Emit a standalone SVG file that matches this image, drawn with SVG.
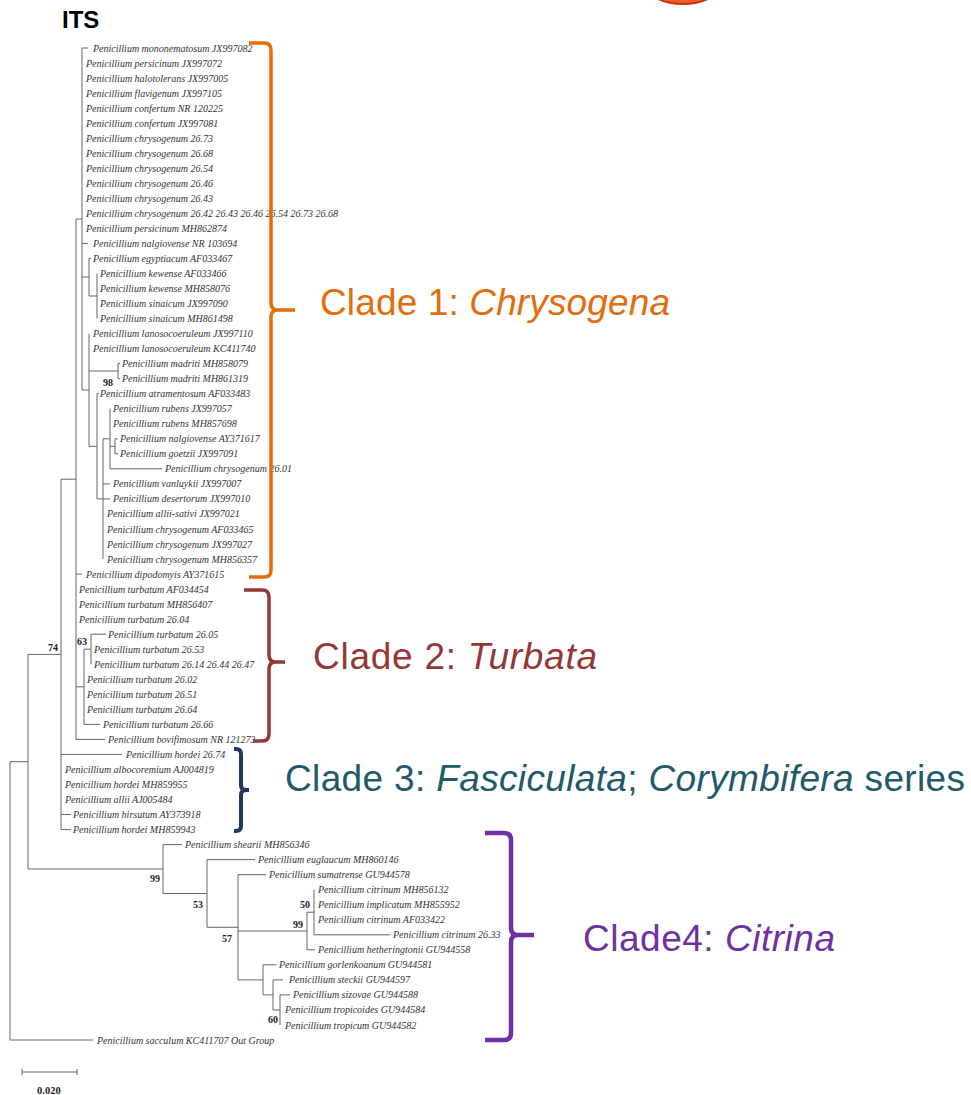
<svg xmlns="http://www.w3.org/2000/svg" width="971" height="1095" viewBox="0 0 971 1095">
<style>
.lf{font-family:"Liberation Serif",serif;font-style:italic;font-size:10px;fill:#333}
.bs{font-family:"Liberation Serif",serif;font-weight:bold;font-size:10px;fill:#222}
.tr{fill:none;stroke:#666;stroke-width:1}
.br{fill:none;stroke-linecap:butt;stroke-linejoin:round}
.cl{font-family:"Liberation Sans",Arial,sans-serif;font-size:37px}
.it{font-style:italic}
</style>
<rect width="971" height="1095" fill="#fff"/>
<ellipse cx="683" cy="-22" rx="42" ry="26" fill="#E8602A" stroke="#C9301A" stroke-width="2"/>
<text x="62" y="28" style="font-family:'Liberation Sans',Arial,sans-serif;font-weight:bold;font-size:24px;fill:#000">ITS</text>
<g id="connectors" class="tr">
<path d="M82,48 V390 M82,48 H88 M82,243.4 H88 M82,277 H89 M89,258.4 V296 M89,258.4 H91 M89,296 H97 M97,273.5 V318.5"/>
<path d="M82,390 H89 M89,333.6 V446.3 M89,371 H118 M118,363.6 V378.7 M118,363.6 H120 M118,378.7 H120 M89,446.3 H97 M97,393.7 V498.9 M97,393.7 H99 M97,498.9 H103 M103,438.8 V559 M103,438.8 H110 M110,408.7 V468.8 M110,446.3 H115 M115,438.8 V453.8 M115,438.8 H118 M115,453.8 H118 M110,468.8 H162 M103,483.9 H110 M103,498.9 H110"/>
<path d="M76,219 H82 M76,219 V739.4 M76,574.1 H82 M76,686.8 H84 M84,649.2 V724.4 M84,649.2 H91 M91,634.2 V664.2 M91,634.2 H106 M84,724.4 H100 M76,739.4 H105"/>
<path d="M61,479.2 H76 M61,479.2 V829.6 M61,754.4 H122 M61,814.5 H71 M61,829.6 H71"/>
<path d="M28,654.4 H61 M28,654.4 V869 M28,869 H163"/>
<path d="M163,844.6 V893.5 M163,844.6 H182 M163,893.5 H207 M207,859.6 V927.3 M207,859.6 H255 M207,927.3 H238 M238,874.7 V979.9 M238,874.7 H266 M238,931 H307 M307,912.2 V949.8 M307,912.2 H314 M314,889.7 V934.8 M314,934.8 H390 M307,949.8 H315 M238,979.9 H263 M263,964.8 V994.9 M263,964.8 H276 M263,994.9 H273 M273,979.9 V1010 M273,979.9 H283 M273,1010 H280 M280,994.9 V1025 M280,994.9 H290"/>
<path d="M10,761.7 H28 M10,761.7 V1040 M10,1040 H93"/>
<path d="M22,1072 H77 M22,1069 V1075 M77,1069 V1075"/>
</g>
<g id="leaves">
<g id="n1"><text class="lf" x="93" y="51.5">Penicillium mononematosum JX997082</text></g>
<g id="n2"><text class="lf" x="86" y="66.5">Penicillium persicinum JX997072</text></g>
<g id="n3"><text class="lf" x="86" y="81.6">Penicillium halotolerans JX997005</text></g>
<g id="n4"><text class="lf" x="86" y="96.6">Penicillium flavigenum JX997105</text></g>
<g id="n5"><text class="lf" x="86" y="111.6">Penicillium confertum NR 120225</text></g>
<g id="n6"><text class="lf" x="86" y="126.7">Penicillium confertum JX997081</text></g>
<g id="n7"><text class="lf" x="86" y="141.7">Penicillium chrysogenum 26.73</text></g>
<g id="n8"><text class="lf" x="86" y="156.7">Penicillium chrysogenum 26.68</text></g>
<g id="n9"><text class="lf" x="86" y="171.7">Penicillium chrysogenum 26.54</text></g>
<g id="n10"><text class="lf" x="86" y="186.8">Penicillium chrysogenum 26.46</text></g>
<g id="n11"><text class="lf" x="86" y="201.8">Penicillium chrysogenum 26.43</text></g>
<g id="n12"><text class="lf" x="86" y="216.8">Penicillium chrysogenum 26.42 26.43 26.46 26.54 26.73 26.68</text></g>
<g id="n13"><text class="lf" x="86" y="231.9">Penicillium persicinum MH862874</text></g>
<g id="n14"><text class="lf" x="93" y="246.9">Penicillium nalgiovense NR 103694</text></g>
<g id="n15"><text class="lf" x="93" y="261.9">Penicillium egyptiacum AF033467</text></g>
<g id="n16"><text class="lf" x="100" y="277">Penicillium kewense AF033466</text></g>
<g id="n17"><text class="lf" x="100" y="292">Penicillium kewense MH858076</text></g>
<g id="n18"><text class="lf" x="100" y="307">Penicillium sinaicum JX997090</text></g>
<g id="n19"><text class="lf" x="100" y="322">Penicillium sinaicum MH861498</text></g>
<g id="n20"><text class="lf" x="93" y="337.1">Penicillium lanosocoeruleum JX997110</text></g>
<g id="n21"><text class="lf" x="93" y="352.1">Penicillium lanosocoeruleum KC411740</text></g>
<g id="n22"><text class="lf" x="122" y="367.1">Penicillium madriti MH858079</text></g>
<g id="n23"><text class="lf" x="122" y="382.2">Penicillium madriti MH861319</text></g>
<g id="n24"><text class="lf" x="100" y="397.2">Penicillium atramentosum AF033483</text></g>
<g id="n25"><text class="lf" x="113" y="412.2">Penicillium rubens JX997057</text></g>
<g id="n26"><text class="lf" x="113" y="427.3">Penicillium rubens MH857698</text></g>
<g id="n27"><text class="lf" x="120" y="442.3">Penicillium nalgiovense AY371617</text></g>
<g id="n28"><text class="lf" x="120" y="457.3">Penicillium goetzii JX997091</text></g>
<g id="n29"><text class="lf" x="165" y="472.3">Penicillium chrysogenum 26.01</text></g>
<g id="n30"><text class="lf" x="113" y="487.4">Penicillium vanluykii JX997007</text></g>
<g id="n31"><text class="lf" x="113" y="502.4">Penicillium desertorum JX997010</text></g>
<g id="n32"><text class="lf" x="107" y="517.4">Penicillium allii-sativi JX997021</text></g>
<g id="n33"><text class="lf" x="107" y="532.5">Penicillium chrysogenum AF033465</text></g>
<g id="n34"><text class="lf" x="107" y="547.5">Penicillium chrysogenum JX997027</text></g>
<g id="n35"><text class="lf" x="107" y="562.5">Penicillium chrysogenum MH856357</text></g>
<g id="n36"><text class="lf" x="86" y="577.6">Penicillium dipodomyis AY371615</text></g>
<g id="n37"><text class="lf" x="79" y="592.6">Penicillium turbatum AF034454</text></g>
<g id="n38"><text class="lf" x="79" y="607.6">Penicillium turbatum MH856407</text></g>
<g id="n39"><text class="lf" x="79" y="622.6">Penicillium turbatum 26.04</text></g>
<g id="n40"><text class="lf" x="108" y="637.7">Penicillium turbatum 26.05</text></g>
<g id="n41"><text class="lf" x="94" y="652.7">Penicillium turbatum 26.53</text></g>
<g id="n42"><text class="lf" x="94" y="667.7">Penicillium turbatum 26.14 26.44 26.47</text></g>
<g id="n43"><text class="lf" x="87" y="682.8">Penicillium turbatum 26.02</text></g>
<g id="n44"><text class="lf" x="87" y="697.8">Penicillium turbatum 26.51</text></g>
<g id="n45"><text class="lf" x="87" y="712.8">Penicillium turbatum 26.64</text></g>
<g id="n46"><text class="lf" x="103" y="727.9">Penicillium turbatum 26.66</text></g>
<g id="n47"><text class="lf" x="108" y="742.9">Penicillium bovifimosum NR 121273</text></g>
<g id="n48"><text class="lf" x="126" y="757.9">Penicillium hordei 26.74</text></g>
<g id="n49"><text class="lf" x="65" y="772.9">Penicillium albocoremium AJ004819</text></g>
<g id="n50"><text class="lf" x="65" y="788">Penicillium hordei MH859955</text></g>
<g id="n51"><text class="lf" x="65" y="803">Penicillium allii AJ005484</text></g>
<g id="n52"><text class="lf" x="73" y="818">Penicillium hirsutum AY373918</text></g>
<g id="n53"><text class="lf" x="73" y="833.1">Penicillium hordei MH859943</text></g>
<g id="n54"><text class="lf" x="185" y="848.1">Penicillium shearii MH856346</text></g>
<g id="n55"><text class="lf" x="258" y="863.1">Penicillium euglaucum MH860146</text></g>
<g id="n56"><text class="lf" x="269" y="878.2">Penicillium sumatrense GU944578</text></g>
<g id="n57"><text class="lf" x="318" y="893.2">Penicillium citrinum MH856132</text></g>
<g id="n58"><text class="lf" x="318" y="908.2">Penicillium implicatum MH855952</text></g>
<g id="n59"><text class="lf" x="318" y="923.2">Penicillium citrinum AF033422</text></g>
<g id="n60"><text class="lf" x="393" y="938.3">Penicillium citrinum 26.33</text></g>
<g id="n61"><text class="lf" x="318" y="953.3">Penicillium hetheringtonii GU944558</text></g>
<g id="n62"><text class="lf" x="279" y="968.3">Penicillium gorlenkoanum GU944581</text></g>
<g id="n63"><text class="lf" x="289" y="983.4">Penicillium steckii GU944597</text></g>
<g id="n64"><text class="lf" x="293" y="998.4">Penicillium sizovae GU944588</text></g>
<g id="n65"><text class="lf" x="285" y="1013.4">Penicillium tropicoides GU944584</text></g>
<g id="n66"><text class="lf" x="285" y="1028.5">Penicillium tropicum GU944582</text></g>
<g id="n67"><text class="lf" x="97" y="1043.5">Penicillium sacculum KC411707 Out Group</text></g>
</g>
<g id="supports">
<text class="bs" x="103" y="386">98</text>
<text class="bs" x="77" y="645">63</text>
<text class="bs" x="48" y="651">74</text>
<text class="bs" x="150" y="882">99</text>
<text class="bs" x="193" y="908">53</text>
<text class="bs" x="222" y="942">57</text>
<text class="bs" x="300" y="908">50</text>
<text class="bs" x="293" y="928">99</text>
<text class="bs" x="268" y="1023">60</text>
</g>
<g id="scale"><text class="bs" x="37" y="1094" style="font-size:10.5px">0.020</text></g>
<g id="clade1">
<path class="br" stroke="#E46C0A" stroke-width="3.5" d="M249,43 H264 Q271,43 271,50 V303 Q271,310 278,310 H295 M278,310 Q271,310 271,317 V570 Q271,577 264,577 H249"/>
<text class="cl" x="320" y="315" fill="#E46C0A" textLength="350">Clade 1: <tspan class="it">Chrysogena</tspan></text>
</g>
<g id="clade2">
<path class="br" stroke="#953735" stroke-width="3.5" d="M244,590 H262 Q269,590 269,597 V655 Q269,662 276,662 H285 M276,662 Q269,662 269,669 V734 Q269,741 262,741 H253"/>
<text class="cl" x="313" y="669" fill="#953735" textLength="284">Clade 2: <tspan class="it">Turbata</tspan></text>
</g>
<g id="clade3">
<path class="br" stroke="#1F3864" stroke-width="4" d="M234,749 H236 Q241,749 241,754 V785 Q241,790 246,790 H249 M246,790 Q241,790 241,795 V826 Q241,831 236,831 H234"/>
<text class="cl" x="285" y="791" fill="#215968" textLength="680">Clade 3: <tspan class="it">Fasciculata</tspan>; <tspan class="it">Corymbifera</tspan> series</text>
</g>
<g id="clade4">
<path class="br" stroke="#7030A0" stroke-width="4.5" d="M485,833 H504 Q511,833 511,840 V928 Q511,935 518,935 H534 M518,935 Q511,935 511,942 V1033 Q511,1040 504,1040 H485"/>
<text class="cl" x="583" y="951" fill="#7030A0" textLength="252">Clade4: <tspan class="it">Citrina</tspan></text>
</g>
</svg>
